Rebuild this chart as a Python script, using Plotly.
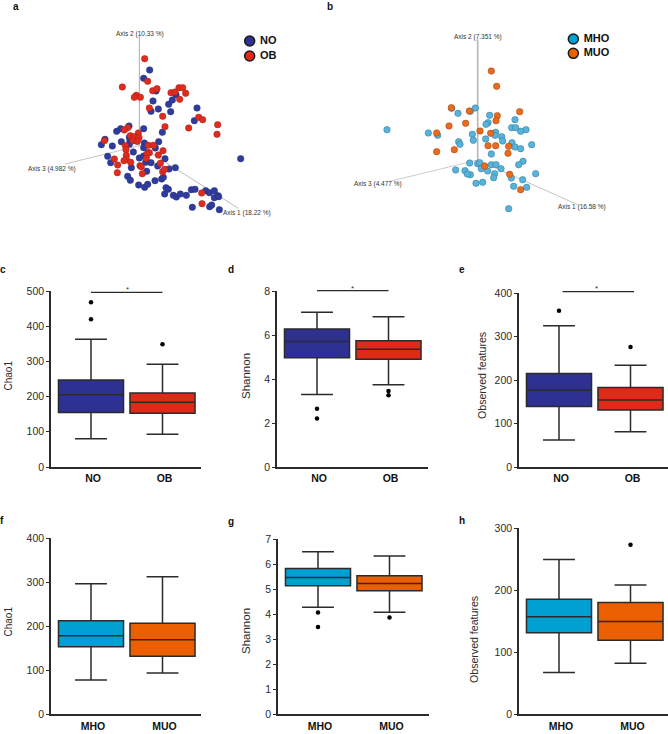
# alpha and beta diversity panels, NO/OB and MHO/MUO
import plotly.graph_objects as go

W, H = 668, 734
FONT = "Liberation Sans"
INK = "#2b2b2b"
BLUE, RED, CYAN, ORANGE = "#2E3192", "#E02A18", "#00A0D2", "#EC5F00"

# --- ordination scores (zoomed picture units) ---
a_no_x = [449,431,468,528,517,506,459,475,453,512,591,583,431,487,387,362,350,315,304,337,388,390,364,388,410,433,431,476,466,400,418,431,445,323,332,437,453,473,495,394,440,507,526,383,391,416,434,443,465,485,490,498,505,494,520,529,541,559,574,585,617,628,643,654,643,656,577,629,635,658,722]
a_no_y = [210,235,273,284,300,313,303,327,334,335,324,362,386,397,378,386,394,418,434,438,412,422,425,433,423,429,443,425,444,456,474,468,458,469,488,487,488,498,476,503,514,507,503,529,541,555,562,553,542,537,532,563,568,582,586,591,582,586,569,568,572,578,572,587,593,590,622,620,615,629,476]
a_ob_x = [434,443,367,458,471,409,403,421,513,525,537,548,557,539,448,488,596,608,566,653,651,495,383,373,415,391,402,417,313,399,376,378,412,445,460,489,475,448,441,379,379,343,372,392,353,420,424,439,481,352,427,488,494,605,606]
a_ob_y = [176,244,261,272,266,286,292,292,278,276,263,263,280,298,324,349,352,359,384,374,403,380,383,390,399,407,410,413,422,422,437,449,424,436,436,452,465,458,462,466,478,477,482,487,495,497,500,475,490,518,521,515,508,579,611]
b_mho_x = [466,451,414,509,585,504,498,575,587,618,602,201,325,353,457,527,525,545,497,460,548,416,420,576,585,602,635,514,449,473,479,514,528,609,596,543,484,503,407,435,451,442,524,521,647,574,608,468,488,581,620,566,395]
b_mho_y = [324,334,340,346,359,368,373,383,383,389,394,389,399,406,403,397,406,410,417,421,423,425,433,428,441,446,434,462,489,491,488,494,494,484,494,506,506,513,510,512,524,522,521,533,521,534,539,550,547,559,562,626,325]
b_muo_x = [514,530,394,448,599,532,528,437,387,480,512,350,504,527,566,350,403,564,494,569,602]
b_muo_y = [213,259,323,333,335,347,362,370,378,393,400,399,437,437,439,455,449,460,498,523,569]

# --- box stats: low whisker, q1, median, q3, high whisker ---
chao_no = [80, 155, 205, 247, 363]
chao_ob = [93, 153, 184, 210, 292]
shan_no = [3.3, 4.97, 5.7, 6.27, 7.03]
shan_ob = [3.74, 4.9, 5.35, 5.74, 6.83]
feat_no = [62, 139, 177, 215, 325]
feat_ob = [81, 131, 154, 183, 234]
chao_mho = [77, 153, 178, 212, 296]
chao_muo = [93, 131, 169, 206, 312]
shan_mho = [4.27, 5.13, 5.46, 5.82, 6.49]
shan_muo = [4.07, 4.93, 5.22, 5.53, 6.32]
feat_mho = [67, 131, 157, 185, 249]
feat_muo = [82, 119, 149, 180, 208]

chao_no_out, chao_ob_out = [420, 468], [349]
shan_no_out, shan_ob_out = [2.2, 2.65], [3.26, 3.45]
feat_no_out, feat_ob_out = [359], [276]
shan_mho_out, shan_muo_out = [3.48, 4.06], [3.86]
feat_muo_out = [273]

groups_top = ["NO", "OB"]
groups_bottom = ["MHO", "MUO"]

# label, y title, ymax, ticks, stats, outliers, colours, names, axis box in px
panels = [
    ("c", "Chao1", 500, [0,100,200,300,400,500], (chao_no, chao_ob), (chao_no_out, chao_ob_out), (BLUE, RED), groups_top, (51, 201, 291, 467)),
    ("d", "Shannon", 8, [0,2,4,6,8], (shan_no, shan_ob), (shan_no_out, shan_ob_out), (BLUE, RED), groups_top, (277, 428, 291, 467)),
    ("e", "Observed features", 400, [0,100,200,300,400], (feat_no, feat_ob), (feat_no_out, feat_ob_out), (BLUE, RED), groups_top, (519, 668, 293, 467)),
    ("f", "Chao1", 400, [0,100,200,300,400], (chao_mho, chao_muo), ([], []), (CYAN, ORANGE), groups_bottom, (51, 201, 538, 714)),
    ("g", "Shannon", 7, [0,1,2,3,4,5,6,7], (shan_mho, shan_muo), (shan_mho_out, shan_muo_out), (CYAN, ORANGE), groups_bottom, (278, 429, 539, 714)),
    ("h", "Observed features", 300, [0,100,200,300], (feat_mho, feat_muo), ([], feat_muo_out), (CYAN, ORANGE), groups_bottom, (519, 668, 528, 714)),
]
# y title: x, y, font size
title_pos = {"c": (7.5, 376, 10), "d": (246, 376, 11.5), "e": (482, 376, 10.6),
             "f": (7.5, 622, 10), "g": (246, 631, 11.5), "h": (474, 640, 10.6)}
label_pos = {"a": (16, 7), "b": (330, 6), "c": (3, 269), "d": (231, 269), "e": (462, 269), "f": (2, 520), "g": (231, 521), "h": (462, 520)}
# significance bars: panel -> x from, x to (box positions), bar y and star x, y in px
sig_bars = {"c": (0, 1, 292.3, 127, 289), "d": (0, 1, 290.7, 352, 288), "e": (0.05, 1.05, 291.7, 596, 288)}

SPACING = 71.5  # px between box centres
FIRST = 40      # px from y axis to first box centre


def px(x, y):
    return x / W, 1 - y / H


fig = go.Figure()
layout_axes = {}
notes = []
bars = []


def text(x, y, s, size, bold=False, angle=0, color=INK):
    notes.append(dict(x=px(x, y)[0], y=px(x, y)[1], xref="paper", yref="paper", text=f"<b>{s}</b>" if bold else s,
                      xanchor="center", yanchor="middle", showarrow=False, textangle=angle,
                      font=dict(family=FONT, size=size, color=color)))


for i, (lab, ytitle, ymax, ticks, stats, outs, cols, names, box) in enumerate(panels):
    n = i + 1
    xa, ya = ("x", "y") if n == 1 else (f"x{n}", f"y{n}")
    x0, x1, ytop, ybot = box
    lo = -FIRST / SPACING
    hi = lo + (x1 - x0) / SPACING
    layout_axes["xaxis" if n == 1 else f"xaxis{n}"] = dict(
        domain=[x0 / W, x1 / W], range=[lo, hi], anchor=ya, tickvals=[0, 1], ticktext=[f"<b>{g}</b>" for g in names],
        showgrid=False, zeroline=False, showline=True, linecolor=INK, linewidth=1.5,
        ticks="outside", ticklen=1 if n <= 3 else 2, tickwidth=0, tickcolor="rgba(0,0,0,0)", ticklabelshift=2,
        automargin=False, tickfont=dict(family=FONT, size=10.5, color="#111"))
    layout_axes["yaxis" if n == 1 else f"yaxis{n}"] = dict(
        domain=[1 - ybot / H, 1 - ytop / H], range=[0, ymax], anchor=xa, tickvals=ticks,
        showgrid=False, zeroline=False, showline=True, linecolor=INK, linewidth=1.5, ticks="outside", ticklen=3,
        automargin=False, tickwidth=1.2, tickcolor=INK, tickfont=dict(family=FONT, size=10.5, color=INK))
    for k in range(2):
        s = stats[k]
        fig.add_trace(go.Box(x=[k], lowerfence=[s[0]], q1=[s[1]], median=[s[2]], q3=[s[3]], upperfence=[s[4]],
                             width=0.91, whiskerwidth=0.49, fillcolor=cols[k], boxpoints=False,
                             line=dict(color=INK, width=1.5), xaxis=xa, yaxis=ya, showlegend=False))
        if outs[k]:
            fig.add_trace(go.Scatter(x=[k] * len(outs[k]), y=outs[k], mode="markers", xaxis=xa, yaxis=ya, showlegend=False,
                                     marker=dict(color="black", size=4.5)))
    if lab in sig_bars:
        b0, b1, by, sx, sy = sig_bars[lab]
        bars.append(dict(type="line", xref=xa, yref="paper", x0=b0, x1=b1, y0=px(0, by)[1], y1=px(0, by)[1],
                         line=dict(color=INK, width=1.2)))
        text(sx, sy, "*", 8, color="#333")
    tx, ty, tsize = title_pos[lab]
    text(tx, ty, ytitle, tsize, angle=-90)

# --- ordination panels, on hidden axes of their own ---
layout_axes["xaxis7"] = dict(domain=[0, 300 / W], range=[0, 900], anchor="y7", visible=False, automargin=False)
layout_axes["yaxis7"] = dict(domain=[1 - 230 / H, 1], range=[690, 0], anchor="x7", visible=False, automargin=False)
layout_axes["xaxis8"] = dict(domain=[320 / W, 620 / W], range=[0, 900], anchor="y8", visible=False, automargin=False)
layout_axes["yaxis8"] = dict(domain=[1 - 230 / H, 1], range=[690, 0], anchor="x8", visible=False, automargin=False)

a_axes = [([418, 418], [108, 437], 1), ([418, 195], [437, 492], 0.7), ([418, 715], [437, 625], 0.8)]
b_axes = [([473, 473], [118, 480], 1.6), ([473, 205], [480, 545], 0.7), ([473, 775], [480, 615], 0.8)]
for xs, ys, w in a_axes:
    fig.add_trace(go.Scatter(x=xs, y=ys, mode="lines", xaxis="x7", yaxis="y7", showlegend=False, line=dict(color="#aaaaaa", width=w)))
for xs, ys, w in b_axes:
    fig.add_trace(go.Scatter(x=xs, y=ys, mode="lines", xaxis="x8", yaxis="y8", showlegend=False, line=dict(color="#b5b5b5", width=w)))


def dots(xs, ys, color, edge, ax, ay):
    fig.add_trace(go.Scatter(x=xs, y=ys, mode="markers", xaxis=ax, yaxis=ay, showlegend=False,
                             marker=dict(color=color, size=6.5, line=dict(color=edge, width=0.5))))


dots(a_no_x, a_no_y, "#2F3C9E", "#27307a", "x7", "y7")
dots(a_ob_x, a_ob_y, "#DE2C1E", "#a82015", "x7", "y7")
dots(b_mho_x, b_mho_y, "#57B3DA", "#2f7495", "x8", "y8")
dots(b_muo_x, b_muo_y, "#EA6A1E", "#9c4510", "x8", "y8")

# legends
for name, col, lx, ly, ax, ay in [("NO", BLUE, 749, 123, "x7", "y7"), ("OB", RED, 749, 168, "x7", "y7"),
                                  ("MHO", CYAN, 760, 117, "x8", "y8"), ("MUO", ORANGE, 760, 160, "x8", "y8")]:
    fig.add_trace(go.Scatter(x=[lx], y=[ly], mode="markers+text", text=[f"<b> {name}</b>"], textposition="middle right",
                             textfont=dict(family=FONT, size=11, color="#111"), xaxis=ax, yaxis=ay, showlegend=False,
                             marker=dict(color=col, size=10, line=dict(color="#1a1a1a", width=1.5))))

for s, x, y in [("Axis 2 (10.33 %)", 140, 34), ("Axis 3 (4.982 %)", 52, 169), ("Axis 1 (18.22 %)", 247, 213),
                ("Axis 2 (7.351 %)", 478, 37), ("Axis 3 (4.477 %)", 378, 184), ("Axis 1 (16.58 %)", 582, 207)]:
    text(x, y, s, 6.5, color="#333")
for lab, (x, y) in label_pos.items():
    text(x, y, lab, 10, bold=True, color="#111")

fig.update_layout(width=W, height=H, margin=dict(l=0, r=0, t=0, b=0), autosize=False, boxmode="overlay",
                  paper_bgcolor="white", plot_bgcolor="white", annotations=notes, shapes=bars, **layout_axes)

# the page's default body margin would push the figure off the window
fig.write_html("out.html", config=dict(displayModeBar=False),
               post_script="document.body.style.margin='0';document.documentElement.style.overflow='hidden';")
